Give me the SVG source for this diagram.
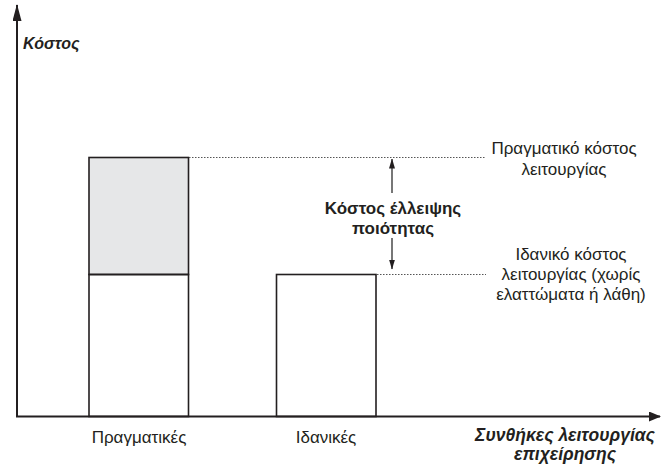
<svg xmlns="http://www.w3.org/2000/svg" width="661" height="464" viewBox="0 0 661 464">
  <style>
    text { font-family: "Liberation Sans", Arial, sans-serif; fill: #231f20; }
    .lbl { font-size: 17px; }
    .bold { font-size: 17px; font-weight: bold; }
    .axis-title { font-weight: bold; font-style: italic; }
    .axis { stroke: #231f20; stroke-width: 2; fill: none; }
    .bar { stroke: #231f20; stroke-width: 1.6; }
    .dot { stroke: #555; stroke-width: 1; stroke-dasharray: 1.5 1.5; fill: none; }
    .arr { stroke: #555; stroke-width: 1.6; fill: none; }
  </style>
  <defs>
    <marker id="axisHeadV" viewBox="0 0 17 9" refX="16" refY="4.5" markerWidth="17" markerHeight="9" orient="auto" markerUnits="userSpaceOnUse">
      <path d="M0,0 L17,4.5 L0,9 z" fill="#231f20"/>
    </marker>
    <marker id="axisHeadH" viewBox="0 0 12 10" refX="11" refY="5" markerWidth="12" markerHeight="10" orient="auto" markerUnits="userSpaceOnUse">
      <path d="M0,0 L12,5 L0,10 z" fill="#231f20"/>
    </marker>
    <marker id="gapHead" viewBox="0 0 10 6" refX="9.5" refY="3" markerWidth="10" markerHeight="6" orient="auto" markerUnits="userSpaceOnUse">
      <path d="M0,0 L10,3 L0,6 z" fill="#231f20"/>
    </marker>
  </defs>
  <rect width="661" height="464" fill="#ffffff"/>

  <!-- axes -->
  <g id="axes">
    <line class="axis" x1="17" y1="417" x2="17" y2="5" marker-end="url(#axisHeadV)"/>
    <line class="axis" x1="16" y1="416.5" x2="660" y2="416.5" marker-end="url(#axisHeadH)"/>
    <text class="axis-title" x="23" y="49" font-size="16">Κόστος</text>
    <text class="axis-title" x="565" y="441" font-size="17.5" text-anchor="middle">Συνθήκες λειτουργίας</text>
    <text class="axis-title" x="565" y="460" font-size="17.5" text-anchor="middle">επιχείρησης</text>
  </g>

  <!-- actual conditions bar -->
  <g id="bar-actual">
    <rect class="bar" x="89" y="157.5" width="99.5" height="117" fill="#e6e7e8"/>
    <rect class="bar" x="89" y="274.5" width="99.5" height="142" fill="none"/>
    <text class="lbl" x="139" y="443" text-anchor="middle">Πραγματικές</text>
  </g>

  <!-- ideal conditions bar -->
  <g id="bar-ideal">
    <rect class="bar" x="276.5" y="274.5" width="99.5" height="142" fill="none"/>
    <text class="lbl" x="326" y="443" text-anchor="middle">Ιδανικές</text>
  </g>

  <!-- reference levels and gap arrows -->
  <g id="connectors">
    <line class="dot" x1="189" y1="157.5" x2="486" y2="157.5"/>
    <line class="dot" x1="377" y1="274.5" x2="486" y2="274.5"/>
    <line class="arr" x1="392" y1="193" x2="392" y2="159" marker-end="url(#gapHead)"/>
    <line class="arr" x1="392" y1="238" x2="392" y2="269" marker-end="url(#gapHead)"/>
  </g>

  <g id="gap-label">
    <text class="bold" x="393" y="214" text-anchor="middle">Κόστος έλλειψης</text>
    <text class="bold" x="393" y="234" text-anchor="middle">ποιότητας</text>
  </g>

  <g id="actual-cost-label">
    <text class="lbl" x="564" y="154" text-anchor="middle">Πραγματικό κόστος</text>
    <text class="lbl" x="564" y="175" text-anchor="middle">λειτουργίας</text>
  </g>

  <g id="ideal-cost-label">
    <text class="lbl" x="571" y="260" text-anchor="middle">Ιδανικό κόστος</text>
    <text class="lbl" x="571" y="280" text-anchor="middle">λειτουργίας (χωρίς</text>
    <text class="lbl" x="571" y="300" text-anchor="middle">ελαττώματα ή λάθη)</text>
  </g>
</svg>
